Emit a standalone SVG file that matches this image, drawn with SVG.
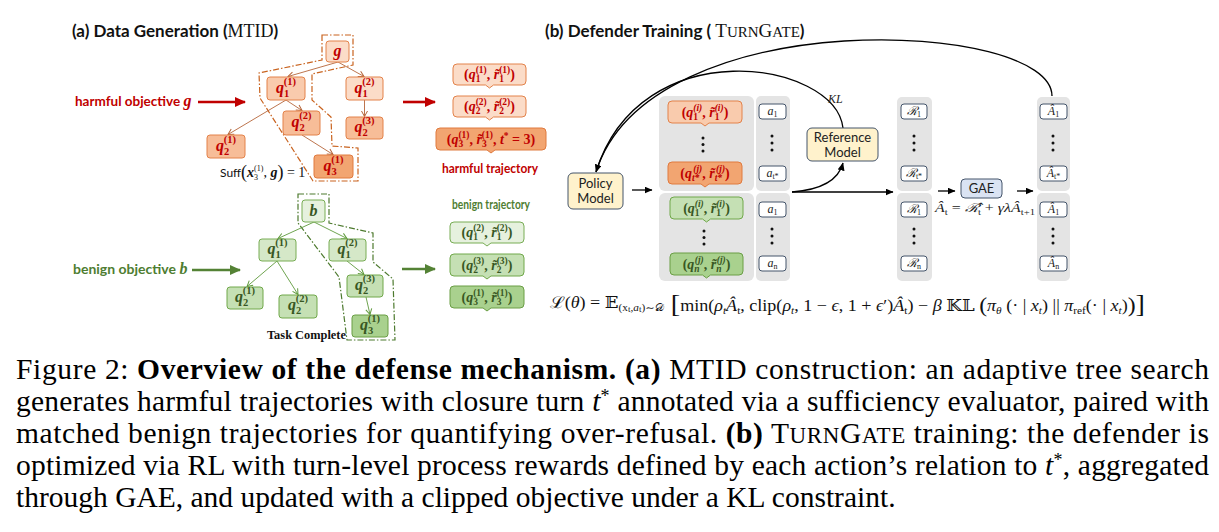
<svg xmlns="http://www.w3.org/2000/svg" width="1219" height="532" viewBox="0 0 1219 532">
<defs>
<style>
.sans{font-family:Lato,"Liberation Sans",sans-serif}
.ser{font-family:"Liberation Serif","DejaVu Serif",serif}
.ttl{font-family:Lato,"Liberation Sans",sans-serif;font-weight:bold;font-size:17px;fill:#111}
.tser{font-family:"Liberation Serif","DejaVu Serif",serif;font-weight:normal}
.tbi{font-family:"Liberation Serif","DejaVu Serif",serif;font-weight:bold;font-style:italic;font-size:16px}
.red{fill:#c00000}
.grn{fill:#385723}
.gtx{fill:#4e7d31}
.tq{font-family:"Liberation Serif","DejaVu Serif",serif;font-weight:bold;font-style:italic;font-size:16px}
.ts{font-size:10.5px;font-style:normal}
.ss{font-size:9.5px;font-style:normal}
.bq{font-family:"Liberation Serif","DejaVu Serif",serif;font-weight:bold;font-size:14px}
.bi{font-style:italic}
.hn1{fill:#fbdcc8;stroke:#e3824a;stroke-width:1}
.hn2{fill:#f9cbad;stroke:#e3824a;stroke-width:1}
.hn3{fill:#f7bd98;stroke:#e3824a;stroke-width:1}
.hn4{fill:#f2a571;stroke:#e07a3e;stroke-width:1}
.gn1{fill:#e6f1de;stroke:#78ad55;stroke-width:1}
.gn2{fill:#d5e8c8;stroke:#78ad55;stroke-width:1}
.gn3{fill:#c5e0b4;stroke:#70a84a;stroke-width:1}
.gn4{fill:#a9d18e;stroke:#6a9e45;stroke-width:1}
.pan{fill:#e4e4e4}
.cell{fill:#fff;stroke:#44546a;stroke-width:1}
.mdl{fill:#fff2cc;stroke:#44546a;stroke-width:1}
.ci{font-family:"Liberation Serif","DejaVu Serif",serif;font-style:italic;font-size:12px;fill:#222}
.cs{font-size:8px;font-style:normal}
.lbl{font-family:Lato,"Liberation Sans",sans-serif;font-size:13px;fill:#222}
.cap{font-family:"Liberation Serif","Times New Roman",serif;font-size:29.5px;fill:#000}
.fm{font-family:"Liberation Serif","DejaVu Serif",serif;font-size:16px;fill:#111}
.dot{fill:#111}
.oline{fill:none;stroke:#b5653a;stroke-width:0.9}
.gline{fill:none;stroke:#5f9a3c;stroke-width:0.9}
.bline{fill:none;stroke:#000;stroke-width:1.3}
.odash{fill:none;stroke:#c9631f;stroke-width:1.2;stroke-dasharray:6 2 1.5 2}
.gdash{fill:none;stroke:#4d7a2e;stroke-width:1.2;stroke-dasharray:6 2 1.5 2}
</style>
<marker id="arO" markerUnits="userSpaceOnUse" markerWidth="8" markerHeight="8" refX="6.5" refY="4" orient="auto"><path d="M1,1 L6.5,4 L1,7" fill="none" stroke="#b5653a" stroke-width="1"/></marker>
<marker id="arG" markerUnits="userSpaceOnUse" markerWidth="8" markerHeight="8" refX="6.5" refY="4" orient="auto"><path d="M1,1 L6.5,4 L1,7" fill="none" stroke="#5f9a3c" stroke-width="1"/></marker>
<marker id="arK" markerUnits="userSpaceOnUse" markerWidth="8" markerHeight="7" refX="7.5" refY="3.5" orient="auto"><path d="M0,0 L8,3.5 L0,7 z" fill="#000"/></marker>
<marker id="arR" markerUnits="userSpaceOnUse" markerWidth="11" markerHeight="10" refX="10" refY="5" orient="auto"><path d="M0,0 L11,5 L0,10 z" fill="#c00000"/></marker>
<marker id="arGr" markerUnits="userSpaceOnUse" markerWidth="11" markerHeight="10" refX="10" refY="5" orient="auto"><path d="M0,0 L11,5 L0,10 z" fill="#548235"/></marker>
</defs>
<rect width="1219" height="532" fill="#fff"/>

<!-- Titles -->
<g id="title-a">
<text class="ttl" x="72" y="37">(a) Data Generation (<tspan class="tser" font-size="18">MTID</tspan>)</text>
</g>
<g id="title-b">
<text class="ttl" x="545" y="37">(b) Defender Training ( <tspan class="tser" font-size="19">T</tspan><tspan class="tser" font-size="15">URN</tspan><tspan class="tser" font-size="19">G</tspan><tspan class="tser" font-size="15">ATE</tspan>)</text>
</g>

<!-- Outlines -->
<path class="odash" d="M322,35 L353,35 L353,65 L312,74 L312,100 L331,117 L332,146 L358,148 L358,181 L313,181 L260,98 L259,73 L322,60 Z"/>
<path class="gdash" d="M298,194 L329,194 L329,223 L373,233 L373,262 L393,279 L395,340 L347,340 L339,277 L298,223 Z"/>

<!-- Connectors -->
<g id="connectors">
<line class="oline" x1="338" y1="62" x2="288" y2="76.5" marker-end="url(#arO)"/>
<line class="oline" x1="338" y1="62" x2="364" y2="76.5" marker-end="url(#arO)"/>
<line class="oline" x1="286" y1="100" x2="228" y2="134.5" marker-end="url(#arO)"/>
<line class="oline" x1="286" y1="100" x2="302" y2="110.5" marker-end="url(#arO)"/>
<line class="oline" x1="364.5" y1="100" x2="364.5" y2="116.5" marker-end="url(#arO)"/>
<line class="oline" x1="302" y1="135" x2="333" y2="154.5" marker-end="url(#arO)"/>
<line class="gline" x1="314" y1="222" x2="278" y2="238.5" marker-end="url(#arG)"/>
<line class="gline" x1="314" y1="222" x2="347" y2="238.5" marker-end="url(#arG)"/>
<line class="gline" x1="277" y1="261" x2="247" y2="286.5" marker-end="url(#arG)"/>
<line class="gline" x1="277" y1="261" x2="298" y2="294.5" marker-end="url(#arG)"/>
<line class="gline" x1="347" y1="261" x2="364" y2="274.5" marker-end="url(#arG)"/>
<line class="gline" x1="366" y1="297" x2="370" y2="314.5" marker-end="url(#arG)"/>
<line x1="198" y1="102" x2="245" y2="102" stroke="#c00000" stroke-width="2.6" marker-end="url(#arR)"/>
<line x1="403" y1="102" x2="435" y2="102" stroke="#c00000" stroke-width="2.6" marker-end="url(#arR)"/>
<line x1="192" y1="270" x2="240" y2="270" stroke="#548235" stroke-width="2.6" marker-end="url(#arGr)"/>
<line x1="402" y1="269" x2="435" y2="269" stroke="#548235" stroke-width="2.6" marker-end="url(#arGr)"/>
<path class="bline" d="M1052,96 C1052,20 650,0 596,172" marker-end="url(#arK)"/>
<path class="bline" d="M843,128 C835,60 640,30 596,172"/>
<line class="bline" x1="632" y1="190" x2="652" y2="190" marker-end="url(#arK)"/>
<path class="bline" d="M792,192 C818,190 838,182 843,163" marker-end="url(#arK)"/>
<line class="bline" x1="792" y1="192" x2="893" y2="192" marker-end="url(#arK)"/>
<line class="bline" x1="938" y1="191" x2="955" y2="191" marker-end="url(#arK)"/>
<line class="bline" x1="1017" y1="191" x2="1033" y2="191" marker-end="url(#arK)"/>
</g>

<!-- Left labels -->
<g id="harmful-objective">
<text class="sans red" x="75" y="106" font-size="13.5" font-weight="bold">harmful objective <tspan class="tbi">g</tspan></text>
</g>
<g id="benign-objective">
<text class="sans gtx" x="73" y="274" font-size="14" font-weight="bold">benign objective <tspan class="tbi">b</tspan></text>
</g>

<!-- Harmful tree nodes -->
<g id="h-g"><rect class="hn1" x="326" y="41" width="23" height="21" rx="3"/><text class="tq red" x="337.5" y="56" text-anchor="middle">g</text></g>
<g id="h-q11"><rect class="hn2" x="267" y="77" width="38" height="23" rx="3"/><text class="tq red" x="286" y="93" text-anchor="middle">q<tspan class="ts" dy="4">1</tspan><tspan class="ts" dx="-5.3" dy="-12">(1)</tspan></text></g>
<g id="h-q12"><rect class="hn1" x="346" y="77" width="37" height="23" rx="3"/><text class="tq red" x="364.5" y="93" text-anchor="middle">q<tspan class="ts" dy="4">1</tspan><tspan class="ts" dx="-5.3" dy="-12">(2)</tspan></text></g>
<g id="h-q21"><rect class="hn3" x="207" y="135" width="38" height="23" rx="3"/><text class="tq red" x="226" y="151" text-anchor="middle">q<tspan class="ts" dy="4">2</tspan><tspan class="ts" dx="-5.3" dy="-12">(1)</tspan></text></g>
<g id="h-q22"><rect class="hn3" x="283" y="111" width="37" height="24" rx="3"/><text class="tq red" x="301.5" y="127" text-anchor="middle">q<tspan class="ts" dy="4">2</tspan><tspan class="ts" dx="-5.3" dy="-12">(2)</tspan></text></g>
<g id="h-q23"><rect class="hn3" x="346" y="117" width="37" height="22" rx="3"/><text class="tq red" x="364.5" y="132" text-anchor="middle">q<tspan class="ts" dy="4">2</tspan><tspan class="ts" dx="-5.3" dy="-12">(3)</tspan></text></g>
<g id="h-q31"><rect class="hn4" x="314" y="155" width="39" height="23" rx="3"/><text class="tq red" x="333.5" y="171" text-anchor="middle">q<tspan class="ts" dy="4">3</tspan><tspan class="ts" dx="-5.3" dy="-12">(1)</tspan></text></g>
<g id="suff"><text class="sans" x="220" y="177" font-size="12" fill="#111">Suff<tspan class="ser" font-size="18" dy="1">(</tspan><tspan class="ser" font-weight="bold" font-style="italic" font-size="14" dy="-1">x</tspan><tspan class="ser" font-size="8" dy="3">3</tspan><tspan class="ser" font-size="8" dx="-4" dy="-9">(1)</tspan><tspan class="ser" font-size="14" dy="6">, </tspan><tspan class="ser" font-weight="bold" font-style="italic" font-size="14">g</tspan><tspan class="ser" font-size="18" dy="1">)</tspan><tspan class="ser" font-size="14" dy="-1"> = 1</tspan></text></g>

<!-- Benign tree nodes -->
<g id="b-b"><rect class="gn1" x="302" y="200" width="23" height="22" rx="3"/><text class="tq grn" x="313.5" y="216" text-anchor="middle">b</text></g>
<g id="b-q11"><rect class="gn2" x="259" y="239" width="37" height="22" rx="3"/><text class="tq grn" x="277.5" y="254" text-anchor="middle">q<tspan class="ts" dy="4">1</tspan><tspan class="ts" dx="-5.3" dy="-12">(1)</tspan></text></g>
<g id="b-q12"><rect class="gn2" x="329" y="239" width="37" height="22" rx="3"/><text class="tq grn" x="347.5" y="254" text-anchor="middle">q<tspan class="ts" dy="4">1</tspan><tspan class="ts" dx="-5.3" dy="-12">(2)</tspan></text></g>
<g id="b-q21"><rect class="gn3" x="227" y="287" width="36" height="22" rx="3"/><text class="tq grn" x="245" y="302" text-anchor="middle">q<tspan class="ts" dy="4">2</tspan><tspan class="ts" dx="-5.3" dy="-12">(1)</tspan></text></g>
<g id="b-q22"><rect class="gn3" x="279" y="295" width="38" height="23" rx="3"/><text class="tq grn" x="298" y="310" text-anchor="middle">q<tspan class="ts" dy="4">2</tspan><tspan class="ts" dx="-5.3" dy="-12">(2)</tspan></text></g>
<g id="b-q23"><rect class="gn3" x="347" y="275" width="36" height="22" rx="3"/><text class="tq grn" x="365" y="290" text-anchor="middle">q<tspan class="ts" dy="4">2</tspan><tspan class="ts" dx="-5.3" dy="-12">(3)</tspan></text></g>
<g id="b-q31"><rect class="gn4" x="352" y="315" width="36" height="22" rx="3"/><text class="tq grn" x="370" y="330" text-anchor="middle">q<tspan class="ts" dy="4">3</tspan><tspan class="ts" dx="-5.3" dy="-12">(1)</tspan></text></g>
<g id="task-complete"><text class="ser" x="267" y="339" font-size="12" font-weight="bold" fill="#111" textLength="79" lengthAdjust="spacingAndGlyphs">Task Complete</text></g>

<!-- Harmful trajectory -->
<g id="ht1"><path class="hn1" d="M457,64 H522 Q526,64 526,68 V81 Q526,85 522,85 H493.5 L489.5,88 L485.5,85 H457 Q453,85 453,81 V68 Q453,64 457,64 Z"/><text class="bq red" x="489.5" y="79" text-anchor="middle">(<tspan class="bi">q</tspan><tspan class="ss" dy="3">1</tspan><tspan class="ss" dx="-4.8" dy="-9">(1)</tspan><tspan dy="6">, </tspan><tspan class="bi">r̃</tspan><tspan class="ss" dy="3">1</tspan><tspan class="ss" dx="-4.8" dy="-9">(1)</tspan><tspan dy="6">)</tspan></text></g>
<g id="ht2"><path class="hn1" d="M457,96 H522 Q526,96 526,100 V113 Q526,117 522,117 H493.5 L489.5,120 L485.5,117 H457 Q453,117 453,113 V100 Q453,96 457,96 Z"/><text class="bq red" x="489.5" y="111" text-anchor="middle">(<tspan class="bi">q</tspan><tspan class="ss" dy="3">2</tspan><tspan class="ss" dx="-4.8" dy="-9">(2)</tspan><tspan dy="6">, </tspan><tspan class="bi">r̃</tspan><tspan class="ss" dy="3">2</tspan><tspan class="ss" dx="-4.8" dy="-9">(2)</tspan><tspan dy="6">)</tspan></text></g>
<g id="ht3"><path class="hn4" d="M440,128 H542 Q546,128 546,132 V146 Q546,150 542,150 H495 L491,153 L487,150 H440 Q436,150 436,146 V132 Q436,128 440,128 Z"/><text class="bq red" x="491" y="144" text-anchor="middle">(<tspan class="bi">q</tspan><tspan class="ss" dy="3">3</tspan><tspan class="ss" dx="-4.8" dy="-9">(1)</tspan><tspan dy="6">, </tspan><tspan class="bi">r̃</tspan><tspan class="ss" dy="3">3</tspan><tspan class="ss" dx="-4.8" dy="-9">(1)</tspan><tspan dy="6">, </tspan><tspan class="bi">t</tspan><tspan class="ss" dy="-5">*</tspan><tspan dy="5"> = 3)</tspan></text></g>
<g id="harmful-traj-label"><text class="sans red" x="490" y="173" font-size="13.5" font-weight="bold" text-anchor="middle" textLength="96" lengthAdjust="spacingAndGlyphs">harmful trajectory</text></g>

<!-- Benign trajectory -->
<g id="benign-traj-label"><text class="sans gtx" x="491" y="209" font-size="13.5" font-weight="bold" text-anchor="middle" textLength="78" lengthAdjust="spacingAndGlyphs">benign trajectory</text></g>
<g id="bt1"><path class="gn1" d="M454,222 H520 Q524,222 524,226 V239 Q524,243 520,243 H491 L487,246 L483,243 H454 Q450,243 450,239 V226 Q450,222 454,222 Z"/><text class="bq grn" x="487" y="237" text-anchor="middle">(<tspan class="bi">q</tspan><tspan class="ss" dy="3">1</tspan><tspan class="ss" dx="-4.8" dy="-9">(2)</tspan><tspan dy="6">, </tspan><tspan class="bi">r̃</tspan><tspan class="ss" dy="3">1</tspan><tspan class="ss" dx="-4.8" dy="-9">(2)</tspan><tspan dy="6">)</tspan></text></g>
<g id="bt2"><path class="gn3" d="M454,254 H520 Q524,254 524,258 V272 Q524,276 520,276 H491 L487,279 L483,276 H454 Q450,276 450,272 V258 Q450,254 454,254 Z"/><text class="bq grn" x="487" y="270" text-anchor="middle">(<tspan class="bi">q</tspan><tspan class="ss" dy="3">2</tspan><tspan class="ss" dx="-4.8" dy="-9">(3)</tspan><tspan dy="6">, </tspan><tspan class="bi">r̃</tspan><tspan class="ss" dy="3">2</tspan><tspan class="ss" dx="-4.8" dy="-9">(3)</tspan><tspan dy="6">)</tspan></text></g>
<g id="bt3"><path class="gn4" d="M454,286 H520 Q524,286 524,290 V304 Q524,308 520,308 H491 L487,311 L483,308 H454 Q450,308 450,304 V290 Q450,286 454,286 Z"/><text class="bq grn" x="487" y="302" text-anchor="middle">(<tspan class="bi">q</tspan><tspan class="ss" dy="3">3</tspan><tspan class="ss" dx="-4.8" dy="-9">(1)</tspan><tspan dy="6">, </tspan><tspan class="bi">r̃</tspan><tspan class="ss" dy="3">3</tspan><tspan class="ss" dx="-4.8" dy="-9">(1)</tspan><tspan dy="6">)</tspan></text></g>

<!-- Right: models -->
<g id="policy-model"><rect class="mdl" x="568" y="173" width="55" height="36" rx="5"/><text class="lbl" x="595.5" y="188" text-anchor="middle">Policy</text><text class="lbl" x="595.5" y="203" text-anchor="middle">Model</text></g>
<g id="reference-model"><rect class="mdl" x="807" y="128" width="71" height="33" rx="5"/><text class="lbl" x="842.5" y="142" text-anchor="middle">Reference</text><text class="lbl" x="842.5" y="157" text-anchor="middle">Model</text></g>
<g id="kl-label"><text class="ci" x="828" y="103" font-size="13">KL</text></g>
<g id="gae"><rect x="961" y="179" width="41" height="19" rx="4" fill="#dae3f3" stroke="#44546a"/><text class="lbl" x="981.5" y="193" text-anchor="middle">GAE</text></g>
<g id="gae-formula"><text class="ci" x="935" y="212" font-size="14" textLength="100" lengthAdjust="spacingAndGlyphs">Â<tspan class="cs" font-size="9" dy="3">t</tspan><tspan font-style="normal" dy="-3"> = </tspan>ℛ̂<tspan class="cs" font-size="9" dy="3">t</tspan><tspan font-style="normal" dy="-3"> + </tspan>γλÂ<tspan class="cs" font-size="9" dy="3">t+1</tspan></text></g>

<!-- Trajectory panel -->
<g id="traj-panel">
<rect class="pan" x="659" y="96" width="95" height="95" rx="6"/>
<rect class="pan" x="659" y="193" width="95" height="88" rx="6"/>
<path class="hn2" d="M672,101 H738 Q742,101 742,105 V119 Q742,123 738,123 H709 L705,126 L701,123 H672 Q668,123 668,119 V105 Q668,101 672,101 Z"/>
<text class="bq red" x="705" y="117" font-size="13.5" text-anchor="middle">(<tspan class="bi">q</tspan><tspan class="ss" dy="3">1</tspan><tspan class="ss bi" dx="-4.8" dy="-9">(i)</tspan><tspan dy="6">, </tspan><tspan class="bi">r̃</tspan><tspan class="ss" dy="3">1</tspan><tspan class="ss bi" dx="-4.8" dy="-9">(i)</tspan><tspan dy="6">)</tspan></text>
<circle class="dot" cx="703" cy="138" r="1.5"/><circle class="dot" cx="703" cy="144.5" r="1.5"/><circle class="dot" cx="703" cy="151" r="1.5"/>
<path class="hn4" d="M672,162 H738 Q742,162 742,166 V180 Q742,184 738,184 H709 L705,187 L701,184 H672 Q668,184 668,180 V166 Q668,162 672,162 Z"/>
<text class="bq red" x="705" y="178" font-size="13.5" text-anchor="middle">(<tspan class="bi">q</tspan><tspan class="ss bi" dy="3">t*</tspan><tspan class="ss bi" dx="-6" dy="-9">(j)</tspan><tspan dy="6">, </tspan><tspan class="bi">r̃</tspan><tspan class="ss bi" dy="3">t*</tspan><tspan class="ss bi" dx="-6" dy="-9">(j)</tspan><tspan dy="6">)</tspan></text>
<path class="gn3" d="M674,197 H739 Q743,197 743,201 V215 Q743,219 739,219 H710.5 L706.5,222 L702.5,219 H674 Q670,219 670,215 V201 Q670,197 674,197 Z"/>
<text class="bq grn" x="706.5" y="213" font-size="13.5" text-anchor="middle">(<tspan class="bi">q</tspan><tspan class="ss" dy="3">1</tspan><tspan class="ss bi" dx="-4.8" dy="-9">(i)</tspan><tspan dy="6">, </tspan><tspan class="bi">r̃</tspan><tspan class="ss" dy="3">1</tspan><tspan class="ss bi" dx="-4.8" dy="-9">(i)</tspan><tspan dy="6">)</tspan></text>
<circle class="dot" cx="704" cy="231" r="1.5"/><circle class="dot" cx="704" cy="237.5" r="1.5"/><circle class="dot" cx="704" cy="244" r="1.5"/>
<path class="gn4" d="M674,253 H739 Q743,253 743,257 V271 Q743,275 739,275 H710.5 L706.5,278 L702.5,275 H674 Q670,275 670,271 V257 Q670,253 674,253 Z"/>
<text class="bq grn" x="706.5" y="269" font-size="13.5" text-anchor="middle">(<tspan class="bi">q</tspan><tspan class="ss bi" dy="3">n</tspan><tspan class="ss bi" dx="-4.8" dy="-9">(j)</tspan><tspan dy="6">, </tspan><tspan class="bi">r̃</tspan><tspan class="ss bi" dy="3">n</tspan><tspan class="ss bi" dx="-4.8" dy="-9">(j)</tspan><tspan dy="6">)</tspan></text>
</g>

<!-- Action column -->
<g id="action-col">
<rect class="pan" x="756" y="96" width="34" height="95" rx="5"/>
<rect class="pan" x="756" y="193" width="34" height="88" rx="5"/>
<rect class="cell" x="759" y="104" width="27" height="15" rx="3"/><text class="ci" x="772.5" y="115" text-anchor="middle">a<tspan class="cs" dy="2">1</tspan></text>
<circle class="dot" cx="772" cy="136" r="1.5"/><circle class="dot" cx="772" cy="143" r="1.5"/><circle class="dot" cx="772" cy="150" r="1.5"/>
<rect class="cell" x="759" y="166" width="27" height="15" rx="3"/><text class="ci" x="772.5" y="177" text-anchor="middle">a<tspan class="cs" dy="2">t*</tspan></text>
<rect class="cell" x="759" y="202" width="27" height="15" rx="3"/><text class="ci" x="772.5" y="213" text-anchor="middle">a<tspan class="cs" dy="2">1</tspan></text>
<circle class="dot" cx="772" cy="229" r="1.5"/><circle class="dot" cx="772" cy="236" r="1.5"/><circle class="dot" cx="772" cy="243" r="1.5"/>
<rect class="cell" x="759" y="256" width="27" height="15" rx="3"/><text class="ci" x="772.5" y="267" text-anchor="middle">a<tspan class="cs" dy="2">n</tspan></text>
</g>

<!-- Reward column -->
<g id="reward-col">
<rect class="pan" x="897" y="97" width="35" height="94" rx="5"/>
<rect class="pan" x="897" y="193" width="35" height="88" rx="5"/>
<rect class="cell" x="901" y="104" width="26" height="15" rx="3"/><text class="ci" x="914" y="115" text-anchor="middle">ℛ<tspan class="cs" dy="2">1</tspan></text>
<circle class="dot" cx="914" cy="136" r="1.5"/><circle class="dot" cx="914" cy="143" r="1.5"/><circle class="dot" cx="914" cy="150" r="1.5"/>
<rect class="cell" x="901" y="166" width="26" height="15" rx="3"/><text class="ci" x="914" y="177" text-anchor="middle">ℛ<tspan class="cs" dy="2">t*</tspan></text>
<rect class="cell" x="901" y="202" width="26" height="15" rx="3"/><text class="ci" x="914" y="213" text-anchor="middle">ℛ<tspan class="cs" dy="2">1</tspan></text>
<circle class="dot" cx="914" cy="229" r="1.5"/><circle class="dot" cx="914" cy="236" r="1.5"/><circle class="dot" cx="914" cy="243" r="1.5"/>
<rect class="cell" x="901" y="256" width="26" height="15" rx="3"/><text class="ci" x="914" y="267" text-anchor="middle">ℛ<tspan class="cs" dy="2">n</tspan></text>
</g>

<!-- Advantage column -->
<g id="adv-col">
<rect class="pan" x="1037" y="97" width="33" height="94" rx="5"/>
<rect class="pan" x="1037" y="193" width="33" height="88" rx="5"/>
<rect class="cell" x="1040" y="104" width="27" height="15" rx="3"/><text class="ci" x="1053.5" y="115" text-anchor="middle">Â<tspan class="cs" dy="2">1</tspan></text>
<circle class="dot" cx="1053" cy="136" r="1.5"/><circle class="dot" cx="1053" cy="143" r="1.5"/><circle class="dot" cx="1053" cy="150" r="1.5"/>
<rect class="cell" x="1040" y="166" width="27" height="15" rx="3"/><text class="ci" x="1053.5" y="177" text-anchor="middle">Â<tspan class="cs" dy="2">t*</tspan></text>
<rect class="cell" x="1040" y="202" width="27" height="15" rx="3"/><text class="ci" x="1053.5" y="213" text-anchor="middle">Â<tspan class="cs" dy="2">1</tspan></text>
<circle class="dot" cx="1053" cy="229" r="1.5"/><circle class="dot" cx="1053" cy="236" r="1.5"/><circle class="dot" cx="1053" cy="243" r="1.5"/>
<rect class="cell" x="1040" y="256" width="27" height="15" rx="3"/><text class="ci" x="1053.5" y="267" text-anchor="middle">Â<tspan class="cs" dy="2">n</tspan></text>
</g>

<!-- Objective formula -->
<g id="objective">
<text class="fm" x="550" y="308" textLength="595" lengthAdjust="spacingAndGlyphs">ℒ(<tspan font-style="italic">θ</tspan>) = 𝔼<tspan font-size="10" dy="3">(x</tspan><tspan font-size="8" dy="1">t</tspan><tspan font-size="10" dy="-1">,</tspan><tspan font-size="10" font-style="italic">a</tspan><tspan font-size="8" dy="1">t</tspan><tspan font-size="10" dy="-1">)∼𝒟</tspan><tspan font-size="25" dy="1"> [</tspan><tspan dy="-1">min(</tspan><tspan font-style="italic">ρ</tspan><tspan font-size="10" font-style="italic" dy="3">t</tspan><tspan font-style="italic" dy="-3">Â</tspan><tspan font-size="10" dy="3">t</tspan><tspan dy="-3">, clip(</tspan><tspan font-style="italic">ρ</tspan><tspan font-size="10" font-style="italic" dy="3">t</tspan><tspan dy="-3">, 1 − </tspan><tspan font-style="italic">ϵ</tspan>, 1 + <tspan font-style="italic">ϵ</tspan>′)<tspan font-style="italic">Â</tspan><tspan font-size="10" dy="3">t</tspan><tspan dy="-3">) − </tspan><tspan font-style="italic">β</tspan> 𝕂𝕃 <tspan font-size="21" dy="1">(</tspan><tspan font-style="italic" dy="-1">π</tspan><tspan font-size="10" font-style="italic" dy="3">θ</tspan><tspan dy="-3"> (· | </tspan><tspan font-style="italic">x</tspan><tspan font-size="10" font-style="italic" dy="3">t</tspan><tspan dy="-3">) || </tspan><tspan font-style="italic">π</tspan><tspan font-size="10" dy="3">ref</tspan><tspan dy="-3">(· | </tspan><tspan font-style="italic">x</tspan><tspan font-size="10" font-style="italic" dy="3">t</tspan><tspan dy="-3">)</tspan><tspan font-size="21" dy="1">)</tspan><tspan font-size="25">]</tspan></text>
</g>

<!-- Caption -->
<g id="caption">
<text class="cap" x="16" y="379" textLength="1193" lengthAdjust="spacing">Figure 2: <tspan font-weight="bold">Overview of the defense mechanism.</tspan> <tspan font-weight="bold">(a)</tspan> MTID construction: an adaptive tree search</text>
<text class="cap" x="16" y="411" textLength="1193" lengthAdjust="spacing">generates harmful trajectories with closure turn <tspan font-style="italic">t</tspan><tspan font-size="18" dy="-9">*</tspan><tspan dy="9"> annotated via a sufficiency evaluator, paired with</tspan></text>
<text class="cap" x="16" y="443" textLength="1193" lengthAdjust="spacing">matched benign trajectories for quantifying over-refusal. <tspan font-weight="bold">(b)</tspan> T<tspan font-size="23">URN</tspan>G<tspan font-size="23">ATE</tspan> training: the defender is</text>
<text class="cap" x="16" y="475" textLength="1193" lengthAdjust="spacing">optimized via RL with turn-level process rewards defined by each action’s relation to <tspan font-style="italic">t</tspan><tspan font-size="18" dy="-9">*</tspan><tspan dy="9">, aggregated</tspan></text>
<text class="cap" x="16" y="507">through GAE, and updated with a clipped objective under a KL constraint.</text>
</g>
</svg>
